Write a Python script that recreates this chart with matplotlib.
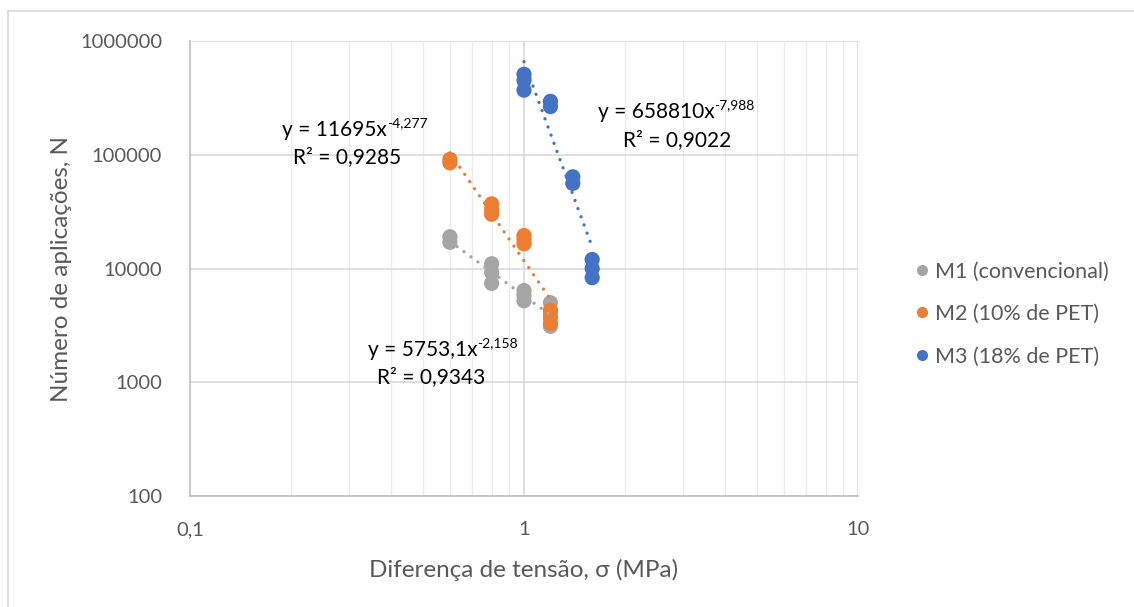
import matplotlib
matplotlib.use("Agg")
import matplotlib.pyplot as plt
import numpy as np
from matplotlib.ticker import FixedLocator, NullFormatter
from matplotlib.lines import Line2D

plt.rcParams['font.family'] = ['Lato', 'DejaVu Sans']

# Fatigue data: stress difference (MPa) vs. number of load applications
m1_x = [0.6, 0.6, 0.8, 0.8, 0.8, 1.0, 1.0, 1.0, 1.2, 1.2, 1.2]
m1_n = [19000, 17000, 11000, 9200, 7400, 6400, 5800, 5200, 5000, 4000, 3100]
m2_x = [0.6, 0.6, 0.8, 0.8, 0.8, 1.0, 1.0, 1.0, 1.2, 1.2, 1.2]
m2_n = [91000, 85000, 37000, 33000, 30000, 19500, 18000, 16500, 4300, 3700, 3300]
m3_x = [1.0, 1.0, 1.0, 1.2, 1.2, 1.4, 1.4, 1.6, 1.6, 1.6]
m3_n = [510000, 450000, 370000, 295000, 265000, 64000, 56000, 12000, 10000, 8300]

labels = ["M1 (convencional)", "M2 (10% de PET)", "M3 (18% de PET)"]
colors = ["#A5A5A5", "#ED7D31", "#4472C4"]

# Power-law trend lines y = a * x^b
fit_a = [5753.1, 11695, 658810]
fit_b = [-2.158, -4.277, -7.988]
fit_r2 = ["0,9343", "0,9285", "0,9022"]
fit_a_txt = ["5753,1", "11695", "658810"]
fit_b_txt = ["-2,158", "-4,277", "-7,988"]

x_ticks = [0.1, 1, 10]
x_ticklabels = ["0,1", "1", "10"]
y_ticks = [100, 1000, 10000, 100000, 1000000]
y_ticklabels = ["100", "1000", "10000", "100000", "1000000"]

W, H = 1134, 607
fig = plt.figure(figsize=(W / 100, H / 100), dpi=100)
ax = fig.add_axes([190 / W, 1 - 496 / H, (858 - 190) / W, (496 - 41) / H])

# outer chart border
fig.add_artist(Line2D([8 / W, 8 / W], [0, 1 - 11 / H], transform=fig.transFigure,
                      color="#D9D9D9", lw=1.2))
fig.add_artist(Line2D([8 / W, 1], [1 - 11 / H, 1 - 11 / H], transform=fig.transFigure,
                      color="#D9D9D9", lw=1.2))

ax.set_xscale("log")
ax.set_yscale("log")
ax.set_xlim(0.1, 10)
ax.set_ylim(100, 1000000)

xs_all = [m1_x, m2_x, m3_x]
ns_all = [m1_n, m2_n, m3_n]
for xs, ns, c, lab in zip(xs_all, ns_all, colors, labels):
    ax.scatter(xs, ns, s=120, color=c, edgecolors="none", zorder=3, label=lab)

for xs, a, b, c in zip(xs_all, fit_a, fit_b, colors):
    xx = np.linspace(min(xs), max(xs), 100)
    ax.plot(xx, a * xx ** b, color=c, lw=2.4, linestyle=(0, (0.01, 2.6)),
            dash_capstyle="round", zorder=4)

# grid
ax.xaxis.set_major_locator(FixedLocator(x_ticks))
ax.set_xticklabels(x_ticklabels)
minor = [m * 10.0 ** e for e in (-1, 0) for m in range(2, 10)]
ax.xaxis.set_minor_locator(FixedLocator(minor))
ax.xaxis.set_minor_formatter(NullFormatter())
ax.yaxis.set_major_locator(FixedLocator(y_ticks))
ax.set_yticklabels(y_ticklabels)
ax.yaxis.set_minor_locator(FixedLocator([]))
ax.grid(True, which="major", color="#D9D9D9", lw=1.2, zorder=0)
ax.grid(True, which="minor", axis="x", color="#ECECEC", lw=1.0, zorder=0)
ax.set_axisbelow(True)

for s in ["top", "right"]:
    ax.spines[s].set_visible(False)
for s in ["left", "bottom"]:
    ax.spines[s].set_color("#BFBFBF")
    ax.spines[s].set_linewidth(1.2)

ax.tick_params(axis="both", which="both", length=0, labelsize=14.5,
               labelcolor="#595959")
ax.tick_params(axis="x", pad=18)
ax.tick_params(axis="y", pad=20)

ax.set_xlabel("Diferença de tensão, σ (MPa)", fontsize=17.5, color="#595959",
              labelpad=15)
ax.set_ylabel("Número de aplicações, N", fontsize=17.5, color="#595959")
ax.yaxis.set_label_coords(-0.177, 0.5)

# equation labels: base text plus a raised exponent, centred as one block
renderer = fig.canvas.get_renderer()
eq_pos = [(443, 350, 431, 377), (355, 130, 347, 157), (676, 112, 677, 140)]
for (x1, y1, x2, y2), at, bt, r2 in zip(eq_pos, fit_a_txt, fit_b_txt, fit_r2):
    base = fig.text(0, 1 - y1 / H, "y = " + at + "x", ha="left", va="center",
                    fontsize=15, color="#000000")
    sup = fig.text(0, 1 - (y1 - 7) / H, bt, ha="left", va="center",
                   fontsize=10, color="#000000")
    wb = base.get_window_extent(renderer).width
    ws = sup.get_window_extent(renderer).width
    left = x1 - (wb + ws) / 2
    base.set_x(left / W)
    sup.set_x((left + wb) / W)
    fig.text(x2 / W, 1 - y2 / H, "R² = " + r2,
             ha="center", va="center", fontsize=15, color="#000000")

handles = [Line2D([], [], marker="o", linestyle="none", markersize=8,
                  markerfacecolor=c, markeredgecolor="none") for c in colors]
leg = fig.legend(handles, labels, loc="center left",
                 bbox_to_anchor=(905 / W, 1 - 314 / H), frameon=False,
                 fontsize=15.5, labelspacing=1.05, handlelength=0.6,
                 handletextpad=0.3, borderpad=0)
for t in leg.get_texts():
    t.set_color("#595959")

fig.savefig("out.png", dpi=100)
